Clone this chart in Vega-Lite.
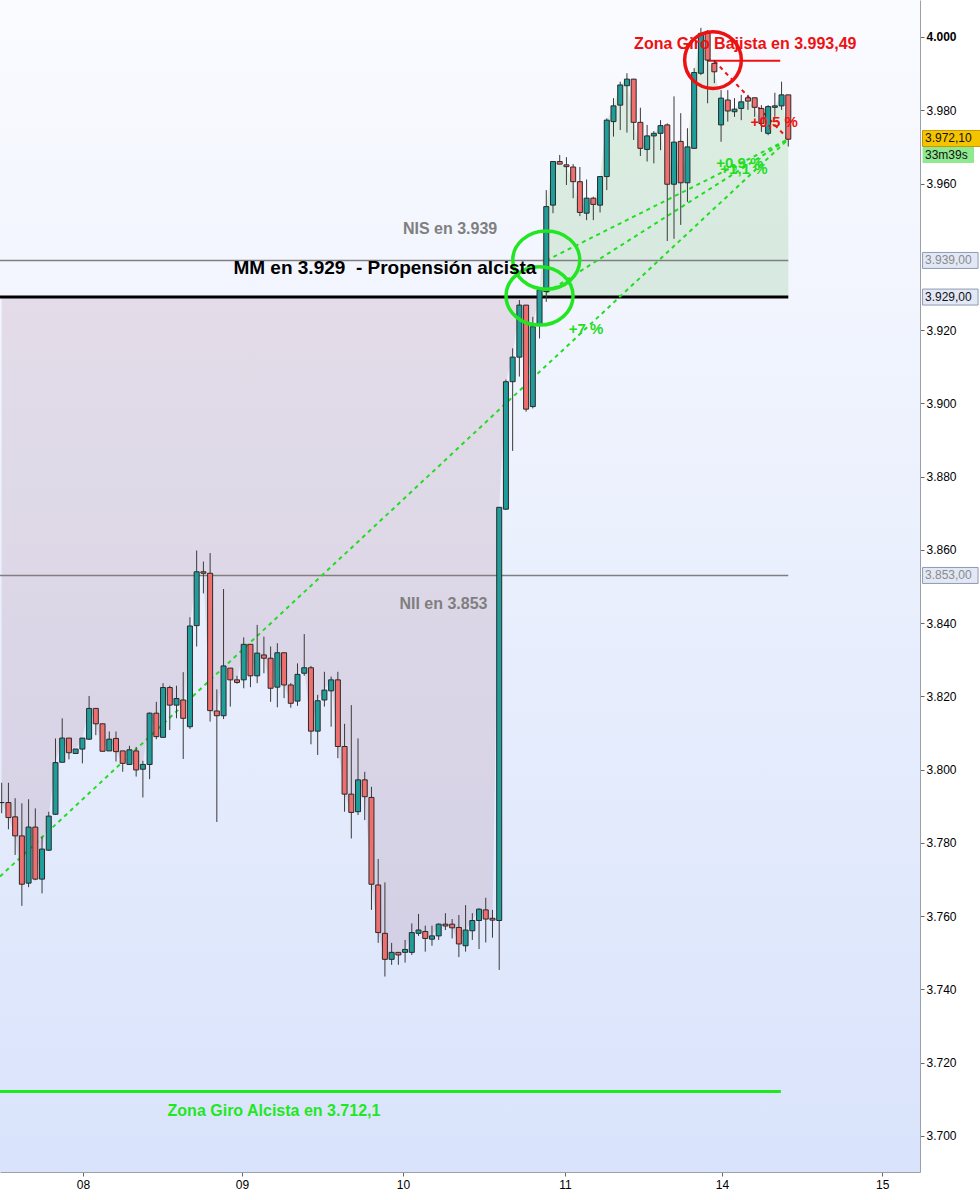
{
  "$schema": "https://vega.github.io/schema/vega-lite/v6.json",
  "width": 920,
  "height": 1172,
  "autosize": {"type": "none"},
  "padding": {"left": 0, "top": 0, "right": 60, "bottom": 28},
  "background": "white",
  "config": {"view": {"stroke": null}, "font": "Liberation Sans"},
  "datasets": {
    "candles": [
      {"i":0,"o":3791.0,"h":3796.4,"l":3788.1,"c":3791.0},
      {"i":1,"o":3791.0,"h":3796.4,"l":3783.7,"c":3786.9},
      {"i":2,"o":3787.1,"h":3792.2,"l":3776.7,"c":3781.9},
      {"i":3,"o":3781.9,"h":3790.8,"l":3762.8,"c":3768.7},
      {"i":4,"o":3769.0,"h":3791.9,"l":3767.9,"c":3784.3},
      {"i":5,"o":3784.3,"h":3789.4,"l":3769.8,"c":3770.1},
      {"i":6,"o":3770.1,"h":3781.7,"l":3766.2,"c":3778.3},
      {"i":7,"o":3778.0,"h":3788.5,"l":3777.8,"c":3787.3},
      {"i":8,"o":3787.8,"h":3808.5,"l":3787.6,"c":3801.9},
      {"i":9,"o":3802.0,"h":3814.0,"l":3802.0,"c":3808.6},
      {"i":10,"o":3808.6,"h":3808.6,"l":3802.8,"c":3804.6},
      {"i":11,"o":3804.4,"h":3805.6,"l":3804.4,"c":3805.6},
      {"i":12,"o":3805.6,"h":3808.6,"l":3801.7,"c":3808.6},
      {"i":13,"o":3808.3,"h":3820.1,"l":3808.1,"c":3816.7},
      {"i":14,"o":3816.7,"h":3816.7,"l":3809.4,"c":3812.5},
      {"i":15,"o":3812.5,"h":3812.5,"l":3805.0,"c":3805.0},
      {"i":16,"o":3805.1,"h":3810.4,"l":3805.1,"c":3808.3},
      {"i":17,"o":3808.5,"h":3810.4,"l":3802.2,"c":3804.9},
      {"i":18,"o":3805.1,"h":3805.1,"l":3799.4,"c":3801.7},
      {"i":19,"o":3801.4,"h":3806.5,"l":3801.4,"c":3805.4},
      {"i":20,"o":3805.1,"h":3806.2,"l":3798.1,"c":3799.9},
      {"i":21,"o":3800.1,"h":3802.4,"l":3792.4,"c":3801.4},
      {"i":22,"o":3801.4,"h":3815.6,"l":3797.4,"c":3815.4},
      {"i":23,"o":3815.4,"h":3818.5,"l":3808.3,"c":3809.0},
      {"i":24,"o":3808.8,"h":3823.6,"l":3808.8,"c":3822.4},
      {"i":25,"o":3822.4,"h":3822.9,"l":3810.8,"c":3817.6},
      {"i":26,"o":3817.6,"h":3822.9,"l":3814.0,"c":3819.4},
      {"i":27,"o":3819.0,"h":3826.6,"l":3802.9,"c":3814.0},
      {"i":28,"o":3811.7,"h":3841.6,"l":3811.1,"c":3839.2},
      {"i":29,"o":3839.3,"h":3859.8,"l":3833.6,"c":3854.0},
      {"i":30,"o":3854.0,"h":3856.8,"l":3848.1,"c":3853.6},
      {"i":31,"o":3853.6,"h":3859.1,"l":3813.1,"c":3816.1},
      {"i":32,"o":3816.0,"h":3821.9,"l":3785.7,"c":3814.7},
      {"i":33,"o":3814.7,"h":3849.3,"l":3813.8,"c":3828.3},
      {"i":34,"o":3827.7,"h":3827.7,"l":3817.2,"c":3824.5},
      {"i":35,"o":3824.5,"h":3825.6,"l":3823.4,"c":3823.8},
      {"i":36,"o":3824.5,"h":3836.1,"l":3822.2,"c":3834.2},
      {"i":37,"o":3834.2,"h":3834.2,"l":3822.5,"c":3825.6},
      {"i":38,"o":3825.6,"h":3839.5,"l":3823.6,"c":3831.8},
      {"i":39,"o":3831.3,"h":3836.3,"l":3826.3,"c":3830.4},
      {"i":40,"o":3830.4,"h":3833.6,"l":3818.5,"c":3822.2},
      {"i":41,"o":3822.5,"h":3834.5,"l":3817.0,"c":3831.9},
      {"i":42,"o":3831.9,"h":3831.9,"l":3819.5,"c":3823.1},
      {"i":43,"o":3823.1,"h":3823.6,"l":3816.9,"c":3818.1},
      {"i":44,"o":3818.7,"h":3829.0,"l":3817.4,"c":3826.0},
      {"i":45,"o":3826.3,"h":3837.0,"l":3825.6,"c":3827.8},
      {"i":46,"o":3827.8,"h":3828.3,"l":3806.9,"c":3810.5},
      {"i":47,"o":3810.5,"h":3820.4,"l":3804.0,"c":3818.8},
      {"i":48,"o":3819.0,"h":3826.7,"l":3817.2,"c":3821.7},
      {"i":49,"o":3821.5,"h":3825.4,"l":3811.7,"c":3824.5},
      {"i":50,"o":3824.5,"h":3826.7,"l":3803.1,"c":3806.3},
      {"i":51,"o":3806.3,"h":3812.5,"l":3788.5,"c":3793.3},
      {"i":52,"o":3793.3,"h":3817.6,"l":3781.2,"c":3788.3},
      {"i":53,"o":3788.5,"h":3808.5,"l":3787.6,"c":3797.2},
      {"i":54,"o":3797.2,"h":3799.4,"l":3786.2,"c":3792.6},
      {"i":55,"o":3792.4,"h":3795.3,"l":3761.7,"c":3768.7},
      {"i":56,"o":3768.5,"h":3775.6,"l":3752.7,"c":3755.5},
      {"i":57,"o":3755.3,"h":3769.2,"l":3743.5,"c":3748.2},
      {"i":58,"o":3748.2,"h":3752.7,"l":3746.7,"c":3750.1},
      {"i":59,"o":3750.1,"h":3750.1,"l":3746.7,"c":3749.4},
      {"i":60,"o":3750.1,"h":3753.5,"l":3747.3,"c":3750.9},
      {"i":61,"o":3750.1,"h":3758.0,"l":3749.4,"c":3755.5},
      {"i":62,"o":3755.3,"h":3760.6,"l":3754.6,"c":3756.2},
      {"i":63,"o":3755.8,"h":3757.4,"l":3750.3,"c":3753.9},
      {"i":64,"o":3753.7,"h":3757.4,"l":3751.9,"c":3754.6},
      {"i":65,"o":3754.6,"h":3758.0,"l":3753.5,"c":3757.8},
      {"i":66,"o":3757.8,"h":3760.8,"l":3756.2,"c":3757.3},
      {"i":67,"o":3757.8,"h":3759.2,"l":3753.9,"c":3756.8},
      {"i":68,"o":3756.9,"h":3760.3,"l":3748.8,"c":3752.4},
      {"i":69,"o":3751.9,"h":3763.0,"l":3750.3,"c":3756.2},
      {"i":70,"o":3756.0,"h":3760.8,"l":3753.5,"c":3758.8},
      {"i":71,"o":3758.8,"h":3762.1,"l":3751.0,"c":3761.9},
      {"i":72,"o":3761.7,"h":3765.0,"l":3752.8,"c":3759.2},
      {"i":73,"o":3759.4,"h":3761.7,"l":3754.1,"c":3758.9},
      {"i":74,"o":3758.8,"h":3871.6,"l":3745.3,"c":3871.6},
      {"i":75,"o":3871.1,"h":3906.5,"l":3870.9,"c":3905.9},
      {"i":76,"o":3905.9,"h":3915.0,"l":3887.0,"c":3912.6},
      {"i":77,"o":3912.6,"h":3928.2,"l":3907.3,"c":3926.8},
      {"i":78,"o":3926.8,"h":3926.8,"l":3897.7,"c":3898.4},
      {"i":79,"o":3899.1,"h":3923.6,"l":3898.6,"c":3920.9},
      {"i":80,"o":3921.4,"h":3930.9,"l":3917.7,"c":3930.9},
      {"i":81,"o":3930.5,"h":3958.2,"l":3927.7,"c":3953.7},
      {"i":82,"o":3954.1,"h":3966.0,"l":3951.9,"c":3966.0},
      {"i":83,"o":3966.0,"h":3967.8,"l":3965.3,"c":3965.3},
      {"i":84,"o":3965.1,"h":3967.2,"l":3959.6,"c":3964.6},
      {"i":85,"o":3964.5,"h":3965.3,"l":3956.0,"c":3960.5},
      {"i":86,"o":3960.5,"h":3964.5,"l":3951.1,"c":3952.1},
      {"i":87,"o":3951.9,"h":3961.1,"l":3950.0,"c":3956.0},
      {"i":88,"o":3956.0,"h":3956.4,"l":3950.0,"c":3954.3},
      {"i":89,"o":3954.1,"h":3961.9,"l":3952.1,"c":3961.9},
      {"i":90,"o":3961.9,"h":3977.8,"l":3958.2,"c":3977.3},
      {"i":91,"o":3976.9,"h":3983.3,"l":3972.8,"c":3981.2},
      {"i":92,"o":3981.4,"h":3987.8,"l":3974.6,"c":3986.9},
      {"i":93,"o":3986.7,"h":3990.1,"l":3973.9,"c":3988.5},
      {"i":94,"o":3988.5,"h":3988.5,"l":3971.9,"c":3976.7},
      {"i":95,"o":3976.7,"h":3980.7,"l":3967.5,"c":3969.6},
      {"i":96,"o":3969.3,"h":3976.0,"l":3966.0,"c":3973.0},
      {"i":97,"o":3973.0,"h":3974.3,"l":3965.5,"c":3973.7},
      {"i":98,"o":3973.7,"h":3977.3,"l":3969.1,"c":3975.8},
      {"i":99,"o":3976.0,"h":3976.4,"l":3944.3,"c":3959.8},
      {"i":100,"o":3959.8,"h":3983.8,"l":3944.9,"c":3971.3},
      {"i":101,"o":3971.5,"h":3979.2,"l":3948.7,"c":3960.2},
      {"i":102,"o":3960.2,"h":3975.1,"l":3955.0,"c":3970.0},
      {"i":103,"o":3969.6,"h":3991.5,"l":3969.6,"c":3990.3},
      {"i":104,"o":3990.1,"h":4002.5,"l":3989.6,"c":4001.0},
      {"i":105,"o":4001.0,"h":4001.9,"l":3981.9,"c":3993.7},
      {"i":106,"o":3992.8,"h":3993.7,"l":3987.4,"c":3990.5},
      {"i":107,"o":3976.0,"h":3985.5,"l":3971.4,"c":3983.3},
      {"i":108,"o":3982.8,"h":3985.5,"l":3976.9,"c":3979.8},
      {"i":109,"o":3979.6,"h":3983.3,"l":3978.2,"c":3980.3},
      {"i":110,"o":3980.5,"h":3984.2,"l":3977.3,"c":3982.3},
      {"i":111,"o":3983.4,"h":3984.2,"l":3980.1,"c":3982.5},
      {"i":112,"o":3983.4,"h":3983.4,"l":3978.2,"c":3980.8},
      {"i":113,"o":3980.5,"h":3981.4,"l":3974.1,"c":3976.4},
      {"i":114,"o":3973.7,"h":3981.4,"l":3973.2,"c":3981.0},
      {"i":115,"o":3980.8,"h":3984.8,"l":3978.2,"c":3981.2},
      {"i":116,"o":3981.2,"h":3987.8,"l":3980.1,"c":3984.2},
      {"i":117,"o":3984.2,"h":3984.2,"l":3970.1,"c":3972.1}
    ],
    "levels": [
      {"k":"nis","p":3939,"a":-0.253,"b":117},
      {"k":"nii","p":3853,"a":-0.253,"b":117},
      {"k":"mm","p":3929,"a":-0.253,"b":117},
      {"k":"alc","p":3712.1,"a":-0.253,"b":115.9},
      {"k":"baj","p":3993.49,"a":104.9,"b":115.8}
    ],
    "trend": [
      {"g":"a","i":-0.253,"p":3770.8},{"g":"a","i":117,"p":3972.1},
      {"g":"b","i":81,"p":3939},{"g":"b","i":117,"p":3972.1},
      {"g":"c","i":80,"p":3929},{"g":"c","i":117,"p":3972.1},
      {"g":"r","i":106,"p":3993.5},{"g":"r","i":117,"p":3972.1}
    ],
    "rings": [
      {"k":"red","i":105.8,"p":3993.7},
      {"k":"green","i":81.0,"p":3939.1},
      {"k":"green","i":80.0,"p":3929.3}
    ],
    "notes": [
      {"k":"red","t":"Zona Giro Bajista en 3.993,49","i":110.6,"p":3998.1},
      {"k":"gray","t":"NIS en 3.939","i":66.7,"p":3947.6},
      {"k":"mm","t":"MM en 3.929 \u00a0- Propensión alcista","i":57.0,"p":3936.9},
      {"k":"gray","t":"NII en 3.853","i":65.7,"p":3845.2},
      {"k":"green","t":"Zona Giro Alcista en 3.712,1","i":40.5,"p":3706.8},
      {"k":"pct","t":"+7 %","i":86.9,"p":3920.3},
      {"k":"pct","t":"+0,9 %","i":109.8,"p":3965.6},
      {"k":"pct","t":"+1,1 %","i":110.4,"p":3964.0},
      {"k":"pctr","t":"+0,5 %","i":114.9,"p":3976.8}
    ],
    "tags": [
      {"k":"gold","t":"3.972,10","p":3972.3},
      {"k":"timer","t":"33m39s","p":3967.8},
      {"k":"lvl","t":"3.939,00","p":3939},
      {"k":"mmv","t":"3.929,00","p":3929},
      {"k":"lvl","t":"3.853,00","p":3853}
    ]
  },
  "layer": [
    {
      "data": {"values": [{}]},
      "mark": {"type": "rect", "color": {"gradient": "linear", "x1": 0, "y1": 0, "x2": 0, "y2": 1, "stops": [{"offset": 0, "color": "#fafbff"}, {"offset": 1, "color": "#d9e3fb"}]}},
      "encoding": {
        "x": {"datum": -0.253, "type": "quantitative"},
        "x2": {"datum": 136.59},
        "y": {"datum": 4010.1, "type": "quantitative"},
        "y2": {"datum": 3690.14}
      }
    },
    {
      "data": {"name": "candles"},
      "transform": [{"filter": "datum.i <= 80"}],
      "mark": {"type": "area", "color": "#96506e", "opacity": 0.15},
      "encoding": {
        "x": {"field": "i", "type": "quantitative", "title": null},
        "y": {"field": "c", "type": "quantitative", "title": null},
        "y2": {"datum": 3929}
      }
    },
    {
      "data": {"name": "candles"},
      "transform": [{"filter": "datum.i >= 80"}],
      "mark": {"type": "area", "color": "#3ca028", "opacity": 0.14},
      "encoding": {
        "x": {"field": "i", "type": "quantitative", "title": null},
        "y": {"field": "c", "type": "quantitative", "title": null},
        "y2": {"datum": 3929}
      }
    },
    {
      "data": {"name": "levels"},
      "transform": [{"filter": "datum.k == 'nis' || datum.k == 'nii'"}],
      "mark": {"type": "rule", "color": "#7f7f7f", "strokeWidth": 1.5},
      "encoding": {
        "x": {"field": "a", "type": "quantitative", "title": null},
        "x2": {"field": "b"},
        "y": {"field": "p", "type": "quantitative", "title": null}
      }
    },
    {
      "data": {"name": "levels"},
      "transform": [{"filter": "datum.k == 'mm'"}],
      "mark": {"type": "rule", "color": "#000000", "strokeWidth": 3},
      "encoding": {
        "x": {"field": "a", "type": "quantitative", "title": null},
        "x2": {"field": "b"},
        "y": {"field": "p", "type": "quantitative", "title": null}
      }
    },
    {
      "data": {"name": "levels"},
      "transform": [{"filter": "datum.k == 'alc'"}],
      "mark": {"type": "rule", "color": "#1ee81e", "strokeWidth": 3},
      "encoding": {
        "x": {"field": "a", "type": "quantitative", "title": null},
        "x2": {"field": "b"},
        "y": {"field": "p", "type": "quantitative", "title": null}
      }
    },
    {
      "data": {"name": "levels"},
      "transform": [{"filter": "datum.k == 'baj'"}],
      "mark": {"type": "rule", "color": "#ee1111", "strokeWidth": 2},
      "encoding": {
        "x": {"field": "a", "type": "quantitative", "title": null},
        "x2": {"field": "b"},
        "y": {"field": "p", "type": "quantitative", "title": null}
      }
    },
    {
      "data": {"name": "trend"},
      "transform": [{"filter": "datum.g != 'r'"}],
      "mark": {"type": "line", "color": "#22dd22", "strokeWidth": 2, "strokeDash": [4, 4]},
      "encoding": {
        "x": {"field": "i", "type": "quantitative", "title": null},
        "y": {"field": "p", "type": "quantitative", "title": null},
        "detail": {"field": "g"}
      }
    },
    {
      "data": {"name": "trend"},
      "transform": [{"filter": "datum.g == 'r'"}],
      "mark": {"type": "line", "color": "#ee1111", "strokeWidth": 2, "strokeDash": [4, 4]},
      "encoding": {
        "x": {"field": "i", "type": "quantitative", "title": null},
        "y": {"field": "p", "type": "quantitative", "title": null}
      }
    },
    {
      "data": {"name": "candles"},
      "mark": {"type": "rule", "color": "#3a3a3a", "strokeWidth": 1},
      "encoding": {
        "x": {
          "field": "i", "type": "quantitative", "title": null,
          "scale": {"domain": [-0.253, 136.59], "nice": false, "zero": false, "padding": 0},
          "axis": {
            "orient": "bottom", "title": null, "grid": false,
            "values": [12.09, 35.74, 59.69, 83.79, 107.14, 130.97],
            "labelExpr": "datum.value < 20 ? '08' : datum.value < 45 ? '09' : datum.value < 70 ? '10' : datum.value < 95 ? '11' : datum.value < 120 ? '14' : '15'",
            "domainColor": "#9aa0a8", "tickColor": "#666666", "tickSize": 4,
            "labelFontSize": 12, "labelColor": "#000000", "labelPadding": 3, "labelFont": "Liberation Sans"
          }
        },
        "y": {
          "field": "l", "type": "quantitative", "title": null,
          "scale": {"domain": [3690.14, 4010.1], "nice": false, "zero": false, "padding": 0},
          "axis": {
            "orient": "right", "title": null, "grid": false,
            "values": [3700, 3720, 3740, 3760, 3780, 3800, 3820, 3840, 3860, 3880, 3900, 3920, 3960, 3980, 4000],
            "labelExpr": "replace(format(datum.value, ',d'), ',', '.')",
            "domainColor": "#9aa0a8", "tickColor": "#666666", "tickSize": 4,
            "labelFontSize": 12, "labelColor": "#000000", "labelPadding": 2, "labelFont": "Liberation Sans",
            "labelFontWeight": {"condition": {"test": "datum.value == 4000", "value": "bold"}, "value": "normal"}
          }
        },
        "y2": {"field": "h"}
      }
    },
    {
      "data": {"name": "candles"},
      "mark": {"type": "bar", "width": 5, "stroke": "#2a2a2a", "strokeWidth": 1},
      "encoding": {
        "x": {"field": "i", "type": "quantitative", "title": null},
        "y": {"field": "o", "type": "quantitative", "title": null},
        "y2": {"field": "c"},
        "color": {"condition": {"test": "datum.c >= datum.o", "value": "#1f9d9b"}, "value": "#ef6e6e"}
      }
    },
    {
      "data": {"name": "rings"},
      "transform": [{"filter": "datum.k == 'red'"}],
      "mark": {"type": "point", "shape": "circle", "filled": false, "size": 3217, "color": "#ee1111", "strokeWidth": 3.5, "opacity": 1},
      "encoding": {
        "x": {"field": "i", "type": "quantitative", "title": null},
        "y": {"field": "p", "type": "quantitative", "title": null}
      }
    },
    {
      "data": {"name": "rings"},
      "transform": [{"filter": "datum.k == 'green'"}],
      "mark": {"type": "point", "shape": "M-1,0A1,0.87,0,1,0,1,0A1,0.87,0,1,0,-1,0Z", "filled": false, "size": 4489, "color": "#22e622", "strokeWidth": 3.5, "opacity": 1},
      "encoding": {
        "x": {"field": "i", "type": "quantitative", "title": null},
        "y": {"field": "p", "type": "quantitative", "title": null}
      }
    },
    {
      "data": {"name": "notes"},
      "transform": [{"filter": "datum.k == 'red'"}],
      "mark": {"type": "text", "color": "#ee1111", "fontSize": 16, "fontWeight": "bold", "align": "center", "baseline": "middle"},
      "encoding": {
        "x": {"field": "i", "type": "quantitative", "title": null},
        "y": {"field": "p", "type": "quantitative", "title": null},
        "text": {"field": "t"}
      }
    },
    {
      "data": {"name": "notes"},
      "transform": [{"filter": "datum.k == 'gray'"}],
      "mark": {"type": "text", "color": "#7f7f7f", "fontSize": 16, "fontWeight": "bold", "align": "center", "baseline": "middle"},
      "encoding": {
        "x": {"field": "i", "type": "quantitative", "title": null},
        "y": {"field": "p", "type": "quantitative", "title": null},
        "text": {"field": "t"}
      }
    },
    {
      "data": {"name": "notes"},
      "transform": [{"filter": "datum.k == 'mm'"}],
      "mark": {"type": "text", "color": "#000000", "fontSize": 19, "fontWeight": "bold", "align": "center", "baseline": "middle"},
      "encoding": {
        "x": {"field": "i", "type": "quantitative", "title": null},
        "y": {"field": "p", "type": "quantitative", "title": null},
        "text": {"field": "t"}
      }
    },
    {
      "data": {"name": "notes"},
      "transform": [{"filter": "datum.k == 'green'"}],
      "mark": {"type": "text", "color": "#1ee81e", "fontSize": 16, "fontWeight": "bold", "align": "center", "baseline": "middle"},
      "encoding": {
        "x": {"field": "i", "type": "quantitative", "title": null},
        "y": {"field": "p", "type": "quantitative", "title": null},
        "text": {"field": "t"}
      }
    },
    {
      "data": {"name": "notes"},
      "transform": [{"filter": "datum.k == 'pct'"}],
      "mark": {"type": "text", "color": "#22dd22", "fontSize": 15, "fontWeight": "bold", "align": "center", "baseline": "middle"},
      "encoding": {
        "x": {"field": "i", "type": "quantitative", "title": null},
        "y": {"field": "p", "type": "quantitative", "title": null},
        "text": {"field": "t"}
      }
    },
    {
      "data": {"name": "notes"},
      "transform": [{"filter": "datum.k == 'pctr'"}],
      "mark": {"type": "text", "color": "#ee1111", "fontSize": 15, "fontWeight": "bold", "align": "center", "baseline": "middle"},
      "encoding": {
        "x": {"field": "i", "type": "quantitative", "title": null},
        "y": {"field": "p", "type": "quantitative", "title": null},
        "text": {"field": "t"}
      }
    },
    {
      "data": {"name": "tags"},
      "transform": [{"filter": "datum.k == 'gold'"}],
      "mark": {"type": "point", "shape": "M-1,-0.276H1V0.276H-1Z", "size": 3364, "filled": true, "fill": "#f5c400", "stroke": "#c89600", "strokeWidth": 1, "opacity": 1},
      "encoding": {
        "x": {"datum": 141.28, "type": "quantitative"},
        "y": {"field": "p", "type": "quantitative", "title": null}
      }
    },
    {
      "data": {"name": "tags"},
      "transform": [{"filter": "datum.k == 'timer'"}],
      "mark": {"type": "point", "shape": "M-1,-0.311H1V0.311H-1Z", "size": 2652, "filled": true, "fill": "#8fe98f", "strokeWidth": 0, "opacity": 1},
      "encoding": {
        "x": {"datum": 140.8, "type": "quantitative"},
        "y": {"field": "p", "type": "quantitative", "title": null}
      }
    },
    {
      "data": {"name": "tags"},
      "transform": [{"filter": "datum.k == 'lvl' || datum.k == 'mmv'"}],
      "mark": {"type": "point", "shape": "M-1,-0.288H1V0.288H-1Z", "size": 3080, "filled": true, "fill": "#e2e8f6", "stroke": "#8e9ab2", "strokeWidth": 1, "opacity": 1},
      "encoding": {
        "x": {"datum": 141.1, "type": "quantitative"},
        "y": {"field": "p", "type": "quantitative", "title": null}
      }
    },
    {
      "data": {"name": "tags"},
      "transform": [{"filter": "datum.k != 'lvl'"}],
      "mark": {"type": "text", "color": "#111111", "fontSize": 12, "align": "left", "baseline": "middle"},
      "encoding": {
        "x": {"datum": 137.33, "type": "quantitative"},
        "y": {"field": "p", "type": "quantitative", "title": null},
        "text": {"field": "t"}
      }
    },
    {
      "data": {"name": "tags"},
      "transform": [{"filter": "datum.k == 'lvl'"}],
      "mark": {"type": "text", "color": "#8a8a8a", "fontSize": 12, "align": "left", "baseline": "middle"},
      "encoding": {
        "x": {"datum": 137.33, "type": "quantitative"},
        "y": {"field": "p", "type": "quantitative", "title": null},
        "text": {"field": "t"}
      }
    }
  ]
}
